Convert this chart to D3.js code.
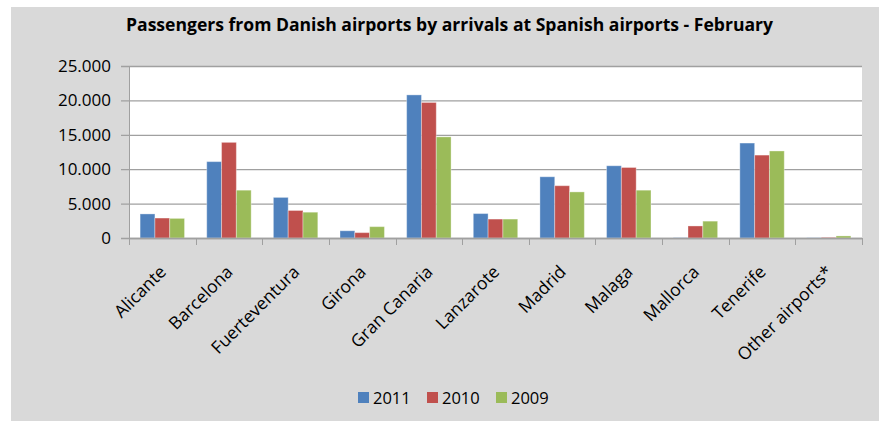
<!DOCTYPE html>
<html>
<head>
<meta charset="utf-8">
<script src="https://cdn.jsdelivr.net/npm/d3@7"></script>
<style>
  body { margin: 0; background: #fff; }
  svg { display: block; font-family: "Open Sans", "Liberation Sans", sans-serif; }
</style>
</head>
<body>
<div id="chart"></div>
<script>
// data
var airports = ["Alicante", "Barcelona", "Fuerteventura", "Girona", "Gran Canaria",
                "Lanzarote", "Madrid", "Malaga", "Mallorca", "Tenerife", "Other airports*"];
var years = ["2011", "2010", "2009"];
var pax2011 = [3500, 11100, 5900, 1050, 20800, 3550, 8900, 10500, 40, 13800, 30];
var pax2010 = [2900, 13900, 4000, 780, 19700, 2750, 7600, 10250, 1750, 12050, 80];
var pax2009 = [2850, 6950, 3750, 1650, 14700, 2750, 6700, 6950, 2450, 12650, 300];
var yTicks = [0, 5000, 10000, 15000, 20000, 25000];
var colors = ["#4f81bd", "#c0504d", "#9bbb59"];

var W = 879, H = 421;
var plot = { left: 129, right: 862, top: 66, bottom: 238 };

var svg = d3.select("#chart").append("svg")
  .attr("width", W).attr("height", H);

// chart area background
svg.append("rect")
  .attr("x", 11).attr("y", 7)
  .attr("width", W - 11).attr("height", H - 7)
  .attr("fill", "#d9d9d9");

svg.append("text")
  .attr("x", 126).attr("y", 31)
  .attr("font-weight", "bold")
  .attr("font-size", 18)
  .attr("textLength", 647).attr("lengthAdjust", "spacingAndGlyphs")
  .attr("fill", "#000")
  .text("Passengers from Danish airports by arrivals at Spanish airports -  February");

svg.append("rect")
  .attr("x", plot.left).attr("y", plot.top)
  .attr("width", plot.right - plot.left).attr("height", plot.bottom - plot.top)
  .attr("fill", "#fff");

var x0 = d3.scaleBand().domain(airports).range([plot.left, plot.right]);
var y = d3.scaleLinear().domain([0, 25000]).range([plot.bottom, plot.top]);
var fmt = function (d) { return d === 0 ? "0" : d3.format(",")(d).replace(/,/g, "."); };

// gridlines + y axis
var yAxis = svg.append("g")
  .attr("transform", "translate(" + plot.left + ",0)")
  .call(d3.axisLeft(y).tickValues(yTicks).tickFormat(fmt)
        .tickSizeInner(-(plot.right - plot.left)).tickSizeOuter(0).tickPadding(18));
yAxis.select(".domain").attr("stroke", "#a0a0a0");
yAxis.selectAll(".tick line").attr("stroke", "#a0a0a0").attr("stroke-width", 1.3).attr("x1", -8);
yAxis.selectAll(".tick text")
  .attr("font-size", 17).attr("fill", "#000")
  .attr("font-family", "'Open Sans', sans-serif");

// bars
var bw = x0.bandwidth() / 4.5;
var series = [pax2011, pax2010, pax2009];
series.forEach(function (vals, s) {
  svg.append("g").selectAll("rect")
    .data(vals)
    .join("rect")
    .attr("x", function (d, i) { return x0(airports[i]) + bw * 0.75 + s * bw; })
    .attr("y", function (d) { return y(d); })
    .attr("width", bw)
    .attr("height", function (d) { return plot.bottom - y(d); })
    .attr("fill", colors[s])
    .attr("stroke", "rgba(255,255,255,0.35)")
    .attr("stroke-width", 1);
});

// x axis with ticks at category boundaries
var xg = svg.append("g");
xg.append("line")
  .attr("x1", plot.left).attr("x2", plot.right)
  .attr("y1", plot.bottom + 0.5).attr("y2", plot.bottom + 0.5)
  .attr("stroke", "#a0a0a0").attr("stroke-width", 1.3);
xg.selectAll("line.tk")
  .data(d3.range(airports.length + 1))
  .join("line").attr("class", "tk")
  .attr("x1", function (i) { return Math.round(plot.left + i * x0.step()) + 0.5; })
  .attr("x2", function (i) { return Math.round(plot.left + i * x0.step()) + 0.5; })
  .attr("y1", plot.bottom).attr("y2", plot.bottom + 7)
  .attr("stroke", "#a0a0a0");
xg.selectAll("text")
  .data(airports)
  .join("text")
  .attr("transform", function (d) {
    return "translate(" + (x0(d) + x0.bandwidth() / 2 + 5) + "," + (plot.bottom + 35) + ") rotate(-45)";
  })
  .attr("text-anchor", "end")
  .attr("font-size", 17.5)
  .attr("fill", "#000")
  .text(function (d) { return d; });

// legend
var legend = svg.append("g").selectAll("g")
  .data(years)
  .join("g")
  .attr("transform", function (d, i) { return "translate(" + (358 + i * 69) + ",392)"; });
legend.append("rect")
  .attr("width", 11).attr("height", 11)
  .attr("fill", function (d, i) { return colors[i]; });
legend.append("text")
  .attr("x", 15).attr("y", 11.5)
  .attr("font-size", 16.5).attr("fill", "#000")
  .text(function (d) { return d; });
</script>
</body>
</html>
